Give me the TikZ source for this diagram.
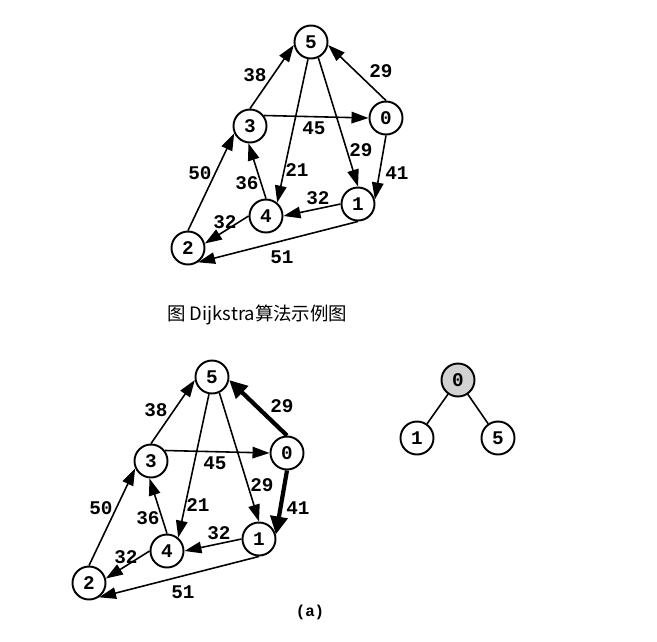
\documentclass[tikz,border=0pt]{standalone}
\usepackage{fontspec}
\setmonofont{Liberation Mono}
\newfontfamily\cjk{Noto Sans CJK SC}
\usetikzlibrary{arrows.meta}

\tikzset{
  vertex/.style={circle, draw, line width=1.1pt, minimum size=6.6mm, inner sep=0pt,
    font=\fontsize{11pt}{12pt}\selectfont\ttfamily\bfseries},
  weight/.style={inner sep=0pt, font=\fontsize{11pt}{12pt}\selectfont\ttfamily\bfseries},
  edge/.style={line width=0.9pt, -{Triangle[length=3.4mm, width=2.3mm]}},
  best/.style={edge},
}

\newcommand{\dijkstragraph}{%
  \node[vertex] at (311, 42)  (n5) {5};
  \node[vertex] at (386, 118) (n0) {0};
  \node[vertex] at (250, 126) (n3) {3};
  \node[vertex] at (358, 204) (n1) {1};
  \node[vertex] at (266, 216) (n4) {4};
  \node[vertex] at (188, 248) (n2) {2};

  \draw [edge] (n3.north) -- (n5.190);\draw [best] (n0.north) -- (n5.-10);\draw [edge] (n3.37) -- (n0.west);
  \draw [edge] (n5.-100) -- (n4.50);\draw [edge] (n5.-65) -- (n1.north);\draw [best] (n0.south) -- (n1.15);
  \draw [edge] (n4.north) -- (n3.-95);\draw [edge] (n2.north) -- (n3.205);\draw [edge] (n1.west) -- (n4.east);
  \draw [edge] (n4.west) -- (n2.15);\draw [edge] (n1.south) -- (n2.-55);

  \node[weight] at (255, 75)  (w35) {38};
  \node[weight] at (381, 71)  (w05) {29};
  \node[weight] at (314, 128) (w30) {45};
  \node[weight] at (200, 173) (w23) {50};
  \node[weight] at (247, 183) (w43) {36};
  \node[weight] at (297, 170) (w54) {21};
  \node[weight] at (361, 150) (w51) {29};
  \node[weight] at (397, 173) (w01) {41};
  \node[weight] at (318, 198) (w14) {32};
  \node[weight] at (225, 222) (w42) {32};
  \node[weight] at (282, 257) (w12) {51};
}

\begin{document}
\begin{tikzpicture}[x=0.2mm, y=-0.2mm]
  \useasboundingbox (0, 0) rectangle (657, 641);

  % upper graph
  \dijkstragraph
  \node[anchor=west, font=\cjk\fontsize{10.5pt}{12pt}\selectfont] at (161, 315) (cap) {图 Dijkstra算法示例图};

  % lower graph, shortest edges of 0 in bold
  \begin{scope}[shift={(-99, 335)}, name prefix=b-,
      best/.style={line width=2.4pt, -{Triangle[length=3.6mm, width=3.4mm]}}]
    \dijkstragraph
  \end{scope}
  \node[weight, font=\fontsize{9pt}{10pt}\selectfont\ttfamily\bfseries] at (310, 612) (sub) {(a)};

  % heap
  \node[vertex, fill=gray!35] at (458, 380) (h0) {0};
  \node[vertex] at (417, 438) (h1) {1};
  \node[vertex] at (498, 438) (h5) {5};
  \draw [line width=0.9pt] (h0) -- (h1);\draw [line width=0.9pt] (h0) -- (h5);
\end{tikzpicture}
\end{document}
